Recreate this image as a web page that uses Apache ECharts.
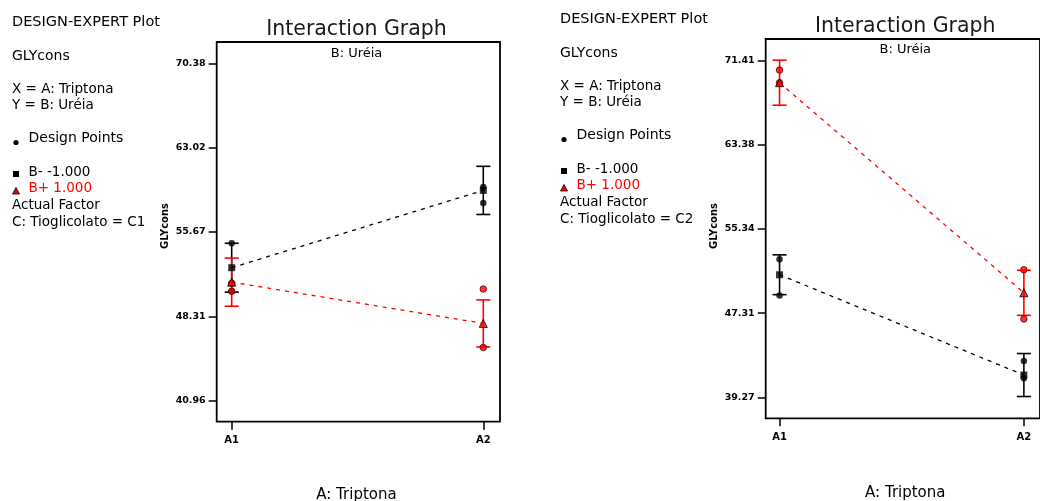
<!DOCTYPE html>
<html>
<head>
<meta charset="utf-8">
<title>Interaction Graph – GLYcons</title>
<script src="https://cdn.jsdelivr.net/npm/echarts@6/dist/echarts.min.js"></script>
<style>
  html, body { margin: 0; padding: 0; background: #fff; }
  #chart { width: 1040px; height: 501px; }
</style>
</head>
<body>
<div id="chart"></div>
<script>
// Factor A levels on the x axis
const categories = ['A1', 'A2'];

// Panel 1: C: Tioglicolato = C1
const c1Ticks = [40.96, 48.31, 55.67, 63.02, 70.38];
const c1LowMean = [52.56, 59.3];          // B- -1.000
const c1LowErr = [2.13, 2.1];
const c1LowPoints = [[54.7, 50.5], [59.6, 58.2]];
const c1HighMean = [51.3, 47.7];          // B+ 1.000
const c1HighErr = [2.1, 2.05];
const c1HighPoints = [[51.2, 50.5], [50.7, 45.6]];

// Panel 2: C: Tioglicolato = C2
const c2Ticks = [39.27, 47.31, 55.34, 63.38, 71.41];
const c2LowMean = [50.97, 41.4];
const c2LowErr = [1.9, 2.05];
const c2LowPoints = [[52.45, 49.0], [42.75, 41.1]];
const c2HighMean = [69.3, 49.25];
const c2HighErr = [2.15, 2.15];
const c2HighPoints = [[70.5, 69.3], [51.45, 46.75]];

const panelLevels = ['C1', 'C2'];

const BLACK = '#000000';
const RED = '#ff0000';
const FONT = 'DejaVu Sans';

// value of a category index on the numeric x axis
const xPos = i => i + 1;

function meanData(means) { return means.map((m, i) => [xPos(i), m]); }
function errData(means, errs) { return means.map((m, i) => [xPos(i), m - errs[i], m + errs[i]]); }
function pointData(points) {
  const out = [];
  points.forEach((vals, i) => vals.forEach(v => out.push([xPos(i), v])));
  return out;
}

function errorBar(color) {
  return function (params, api) {
    const x = api.value(0);
    const top = api.coord([x, api.value(2)]);
    const bot = api.coord([x, api.value(1)]);
    const w = 7;
    const st = { stroke: color, lineWidth: 1.6 };
    return {
      type: 'group',
      children: [
        { type: 'line', shape: { x1: top[0], y1: top[1], x2: bot[0], y2: bot[1] }, style: st },
        { type: 'line', shape: { x1: top[0] - w, y1: top[1], x2: top[0] + w, y2: top[1] }, style: st },
        { type: 'line', shape: { x1: bot[0] - w, y1: bot[1], x2: bot[0] + w, y2: bot[1] }, style: st }
      ]
    };
  };
}

function panelSeries(idx, low, lowErr, lowPts, high, highErr, highPts) {
  const ax = { xAxisIndex: idx, yAxisIndex: idx, silent: true, animation: false };
  return [
    Object.assign({ type: 'custom', renderItem: errorBar(BLACK), data: errData(low, lowErr), encode: { x: 0, y: [1, 2] }, z: 2 }, ax),
    Object.assign({ type: 'custom', renderItem: errorBar(RED), data: errData(high, highErr), encode: { x: 0, y: [1, 2] }, z: 3 }, ax),
    Object.assign({ type: 'line', data: meanData(low), showSymbol: false,
      lineStyle: { color: BLACK, width: 1.3, type: [4, 5] }, z: 4 }, ax),
    Object.assign({ type: 'line', data: meanData(high), showSymbol: false,
      lineStyle: { color: RED, width: 1.3, type: [4, 5] }, z: 4 }, ax),
    Object.assign({ type: 'scatter', data: pointData(lowPts), symbol: 'circle', symbolSize: 6.5,
      itemStyle: { color: BLACK }, z: 5 }, ax),
    Object.assign({ type: 'scatter', data: pointData(highPts), symbol: 'circle', symbolSize: 6.5,
      itemStyle: { color: RED, borderColor: '#550000', borderWidth: 1 }, z: 5 }, ax),
    Object.assign({ type: 'scatter', data: meanData(low), symbol: 'rect', symbolSize: 7,
      itemStyle: { color: BLACK }, z: 6 }, ax),
    Object.assign({ type: 'scatter', data: meanData(high), symbol: 'triangle', symbolSize: 8,
      itemStyle: { color: RED, borderColor: BLACK, borderWidth: 1 }, z: 6 }, ax)
  ];
}

function xAxisFor(idx, min, max) {
  return {
    type: 'value', gridIndex: idx, min: min, max: max,
    splitLine: { show: false },
    axisLine: { show: false },
    axisTick: { show: true, inside: false, length: 8, customValues: [1, 2],
      lineStyle: { color: BLACK, width: 1.5 } },
    axisLabel: { show: true, customValues: [1, 2], margin: 14,
      formatter: v => categories[Math.round(v) - 1],
      fontFamily: FONT, fontSize: 10, fontWeight: 'bold', color: BLACK }
  };
}

function yAxisFor(idx, min, max, ticks) {
  return {
    type: 'value', gridIndex: idx, min: min, max: max,
    splitLine: { show: false },
    axisLine: { show: false },
    axisTick: { show: true, inside: false, length: 8, customValues: ticks,
      lineStyle: { color: BLACK, width: 1.5 } },
    axisLabel: { show: true, customValues: ticks, margin: 11,
      formatter: v => v.toFixed(2),
      fontFamily: FONT, fontSize: 9.5, fontWeight: 'bold', color: BLACK }
  };
}

// Side notes of each panel
function notes(x0, yShift, level) {
  const lines = [
    { t: 'DESIGN-EXPERT Plot', y: 22.7, fs: 14.5 },
    { t: 'GLYcons', y: 56, fs: 14 },
    { t: 'X = A: Triptona', y: 89 },
    { t: 'Y = B: Uréia', y: 105.5 },
    { t: 'Design Points', y: 138.7, indent: true, fs: 14 },
    { t: 'B- -1.000', y: 172, indent: true },
    { t: 'B+ 1.000', y: 188.7, indent: true, color: RED },
    { t: 'Actual Factor', y: 205 },
    { t: 'C: Tioglicolato = ' + level, y: 222 }
  ];
  const els = lines.map(l => ({
    type: 'text', x: x0 + (l.indent ? 16.5 : 0), y: l.y + yShift, silent: true,
    style: { text: l.t, fill: l.color || BLACK, font: (l.fs || 13.5) + 'px "' + FONT + '"',
      align: 'left', verticalAlign: 'middle' }
  }));
  const mx = x0 + 4;
  els.push({ type: 'circle', shape: { cx: mx, cy: 142.5 + yShift, r: 2.6 }, style: { fill: BLACK }, silent: true });
  els.push({ type: 'rect', shape: { x: mx - 3, y: 171 + yShift, width: 6, height: 6 }, style: { fill: BLACK }, silent: true });
  els.push({ type: 'polygon', shape: { points: [[mx, 187.5 + yShift], [mx - 3.5, 194 + yShift], [mx + 3.5, 194 + yShift]] },
    style: { fill: RED, stroke: BLACK, lineWidth: 0.8 }, silent: true });
  return els;
}

function headings(cx, titleY, subY, nameX, nameY, axisNameY) {
  return [
    { type: 'text', x: cx, y: titleY, silent: true, z: 10,
      style: { text: 'Interaction Graph', fill: '#1a1a1a', font: '20.5px "' + FONT + '"', align: 'center', verticalAlign: 'middle' } },
    { type: 'text', x: cx, y: subY, silent: true, z: 10,
      style: { text: 'B: Uréia', fill: BLACK, font: '13px "' + FONT + '"', align: 'center', verticalAlign: 'middle' } },
    { type: 'text', x: nameX, y: nameY, rotation: Math.PI / 2, silent: true,
      style: { text: 'GLYcons', fill: BLACK, font: 'bold 10px "' + FONT + '"', align: 'center', verticalAlign: 'middle' } },
    { type: 'text', x: cx, y: axisNameY, silent: true,
      style: { text: 'A: Triptona', fill: BLACK, font: '15px "' + FONT + '"', align: 'center', verticalAlign: 'top' } }
  ];
}

const chart = echarts.init(document.getElementById('chart'), null, { renderer: 'canvas' });

chart.setOption({
  animation: false,
  backgroundColor: '#ffffff',
  grid: [
    { left: 216.7, top: 42, width: 283.3, height: 379.7, show: true, borderColor: BLACK, borderWidth: 1.8, backgroundColor: 'transparent' },
    { left: 765.7, top: 39, width: 283.3, height: 379.3, show: true, borderColor: BLACK, borderWidth: 1.8, backgroundColor: 'transparent' }
  ],
  xAxis: [xAxisFor(0, 0.9404, 2.0664), xAxisFor(1, 0.9433, 2.066)],
  yAxis: [yAxisFor(0, 39.13, 72.24, c1Ticks), yAxisFor(1, 37.27, 73.47, c2Ticks)],
  series: [].concat(
    panelSeries(0, c1LowMean, c1LowErr, c1LowPoints, c1HighMean, c1HighErr, c1HighPoints),
    panelSeries(1, c2LowMean, c2LowErr, c2LowPoints, c2HighMean, c2HighErr, c2HighPoints)
  ),
  graphic: [].concat(
    notes(12, 0, panelLevels[0]),
    notes(560, -3, panelLevels[1]),
    headings(356.5, 29.5, 54, 165, 226, 487.5),
    headings(905.3, 26.5, 50, 714, 226, 485.5)
  )
});
</script>
</body>
</html>
